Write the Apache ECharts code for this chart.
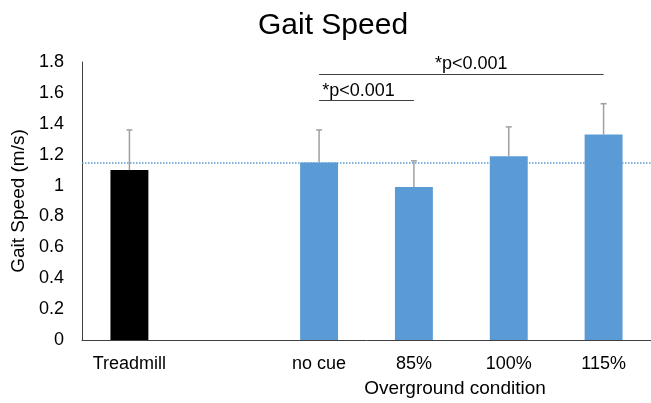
<!DOCTYPE html>
<html><head><meta charset="utf-8">
<script src="https://cdn.jsdelivr.net/npm/echarts@6/dist/echarts.min.js"></script>
<style>html,body{margin:0;padding:0;background:#fff}#c{width:651px;height:403px}</style>
</head><body><div id="c"></div>
<script>
const categories = ['Treadmill', '', 'no cue', '85%', '100%', '115%'];
const speeds = [1.10, null, 1.15, 0.99, 1.19, 1.33];
const errorTops = [1.36, null, 1.36, 1.16, 1.38, 1.53];
const barColors = ['#000000', '#5b9bd5', '#5b9bd5', '#5b9bd5', '#5b9bd5', '#5b9bd5'];
const referenceLine = 1.15;
const brackets = [
  {from: 'no cue', to: '85%', y: 1.55, text: '*p<0.001'},
  {from: 'no cue', to: '115%', y: 1.72, text: '*p<0.001'}
];
const yTicks = {min: 0, max: 1.8, interval: 0.2};

const chart = echarts.init(document.getElementById('c'), null, {renderer: 'canvas'});
const font = 'Liberation Sans, Arial, sans-serif';
const bracketLabelPadding = [[0, 16, 0, 0], [0, 0, 0, 20]];

const errData = [];
speeds.forEach((v, i) => { if (v != null) errData.push([i, v, errorTops[i]]); });

chart.setOption({
  animation: false,
  backgroundColor: '#fff',
  title: {text: 'Gait Speed', left: 253, top: 6,
    textStyle: {fontFamily: font, fontSize: 30, fontWeight: 'normal', color: '#000'}},
  grid: {left: 82, right: 0, top: 62, bottom: 60, containLabel: false},
  xAxis: {type: 'category', data: categories,
    axisLine: {lineStyle: {color: '#404040', width: 1}},
    axisTick: {show: false},
    axisLabel: {fontFamily: font, fontSize: 18, color: '#000', margin: 15, interval: 0},
    name: 'Overground condition', nameLocation: 'middle', nameGap: 39,
    nameTextStyle: {fontFamily: font, fontSize: 19, color: '#000', padding: [0, 0, 0, 177]}
  },
  yAxis: {type: 'value', min: yTicks.min, max: yTicks.max, interval: yTicks.interval,
    splitLine: {show: false},
    axisLine: {show: true, lineStyle: {color: '#404040', width: 1}},
    axisTick: {show: false},
    axisLabel: {fontFamily: font, fontSize: 18, color: '#000', margin: 18,
      formatter: v => String(Math.round(v * 10) / 10)},
    name: 'Gait Speed (m/s)', nameLocation: 'middle', nameGap: 51, nameRotate: 90,
    nameTextStyle: {fontFamily: font, fontSize: 19, color: '#000'}
  },
  series: [
    {type: 'bar', barWidth: '40%',
      data: speeds.map((v, i) => v == null ? '-' : {value: v, itemStyle: {color: barColors[i]}}),
      markLine: {
        silent: true, symbol: 'none',
        lineStyle: {color: '#5b9bd5', type: 'dotted', width: 1.5},
        data: [
          {yAxis: referenceLine, label: {show: false},
            lineStyle: {color: '#5b9bd5', type: 'dotted', width: 1.5}}
        ].concat(brackets.map((b, k) => [
          {coord: [b.from, b.y], lineStyle: {color: '#404040', type: 'solid', width: 1},
            label: {show: true, formatter: b.text, position: 'middle', fontFamily: font, fontSize: 18,
              color: '#000', distance: 1, padding: bracketLabelPadding[k]}},
          {coord: [b.to, b.y]}
        ]))
      }
    },
    {type: 'custom', data: errData, z: 5,
      renderItem: (params, api) => {
        const x = api.value(0);
        const base = api.coord([x, api.value(1)]);
        const top = api.coord([x, api.value(2)]);
        const style = {stroke: '#a0a0a0', lineWidth: 1.5};
        return {type: 'group', children: [
          {type: 'line', shape: {x1: base[0], y1: base[1], x2: top[0], y2: top[1]}, style},
          {type: 'line', shape: {x1: top[0] - 3, y1: top[1], x2: top[0] + 3, y2: top[1]}, style}
        ]};
      }
    }
  ]
});
</script></body></html>
